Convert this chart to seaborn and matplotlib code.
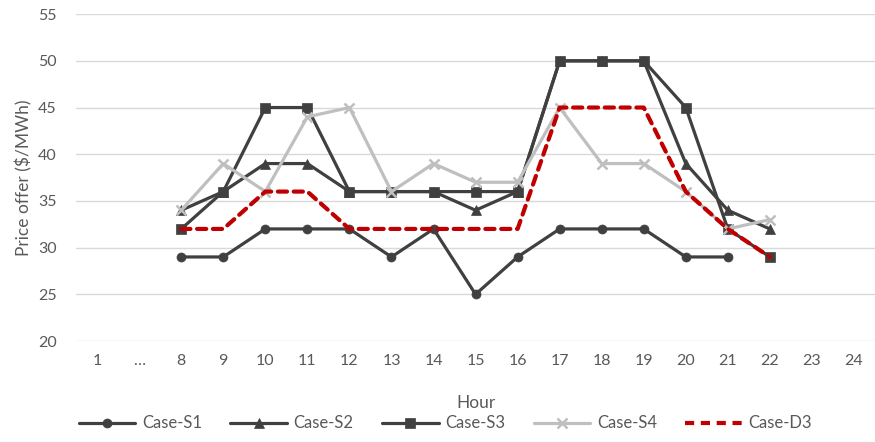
import matplotlib
matplotlib.use("Agg")
import matplotlib.pyplot as plt
import seaborn as sns
import numpy as np
import pandas as pd

# Hour categories shown on the x axis
hours = ["1", "…", "8", "9", "10", "11", "12", "13", "14", "15", "16",
         "17", "18", "19", "20", "21", "22", "23", "24"]
data_hours = ["8", "9", "10", "11", "12", "13", "14", "15", "16",
              "17", "18", "19", "20", "21", "22"]

# Price offers ($/MWh) per case, hours 8..22 (None = no offer)
case_s1 = [29, 29, 32, 32, 32, 29, 32, 25, 29, 32, 32, 32, 29, 29, None]
case_s2 = [34, 36, 39, 39, 36, 36, 36, 34, 36, 50, 50, 50, 39, 34, 32]
case_s3 = [32, 36, 45, 45, 36, 36, 36, 36, 36, 50, 50, 50, 45, 32, 29]
case_s4 = [34, 39, 36, 44, 45, 36, 39, 37, 37, 45, 39, 39, 36, 32, 33]
case_d3 = [32, 32, 36, 36, 32, 32, 32, 32, 32, 45, 45, 45, 36, 32, 29]

series = {
    "Case-S1": case_s1,
    "Case-S2": case_s2,
    "Case-S3": case_s3,
    "Case-S4": case_s4,
    "Case-D3": case_d3,
}

styles = {
    "Case-S1": dict(color="#404040", marker="o", ls="-", lw=2.3, ms=6.5),
    "Case-S2": dict(color="#404040", marker="^", ls="-", lw=2.3, ms=7.5),
    "Case-S3": dict(color="#404040", marker="s", ls="-", lw=2.3, ms=6.5),
    "Case-S4": dict(color="#BFBFBF", marker="x", ls="-", lw=2.3, ms=6.5),
    "Case-D3": dict(color="#C00000", marker=None, ls=(0, (2.2, 1.6)), lw=3.0, ms=0),
}

sns.set_theme(style="white")
plt.rcParams["font.family"] = ["Lato", "DejaVu Sans"]

text_color = "#595959"
grid_color = "#D9D9D9"

fig = plt.figure(figsize=(8.75, 4.42), dpi=100)
ax = fig.add_axes([0.087, 0.2285, 0.913, 0.7395])

for name, vals in series.items():
    df = pd.DataFrame({
        "pos": [hours.index(h) for h in data_hours],
        "price": [np.nan if v is None else v for v in vals],
    }).dropna()
    st = styles[name]
    sns.lineplot(data=df, x="pos", y="price", ax=ax, color=st["color"],
                 marker=st["marker"], linestyle=st["ls"], linewidth=st["lw"],
                 markersize=st["ms"], markeredgecolor=st["color"],
                 markeredgewidth=1.8 if st["marker"] == "x" else 0.5,
                 label=name, legend=False, zorder=3,
                 dash_capstyle="round" if name == "Case-D3" else "butt")

ax.set_xlim(-0.5, len(hours) - 0.5)
ax.set_ylim(20, 55)
ax.set_yticks(range(20, 56, 5))
ax.set_xticks(range(len(hours)))
ax.set_xticklabels(hours)
ax.yaxis.grid(True, color=grid_color, lw=1.0)
ax.xaxis.grid(False)
for s in ax.spines.values():
    s.set_visible(False)
ax.tick_params(axis="both", length=0, labelsize=11.5, colors=text_color)
ax.tick_params(axis="x", pad=9)
ax.tick_params(axis="y", pad=14)
ax.set_xlabel("Hour", fontsize=12.5, color=text_color, labelpad=20)
ax.set_ylabel("Price offer ($/MWh)", fontsize=12.5, color=text_color, labelpad=4)

handles = []
for name in series:
    st = styles[name]
    h, = ax.plot([], [], color=st["color"], marker=st["marker"], linestyle=st["ls"],
                 linewidth=st["lw"], markersize=st["ms"], markeredgecolor=st["color"],
                 markeredgewidth=1.8 if st["marker"] == "x" else 0.5)
    handles.append(h)

fig.legend(handles, list(series.keys()), loc="lower center", ncol=5,
           bbox_to_anchor=(0.509, -0.01), frameon=False, fontsize=12,
           handlelength=3.4, columnspacing=1.7, handletextpad=0.4,
           labelcolor=text_color)

fig.savefig("out.png", dpi=100)
